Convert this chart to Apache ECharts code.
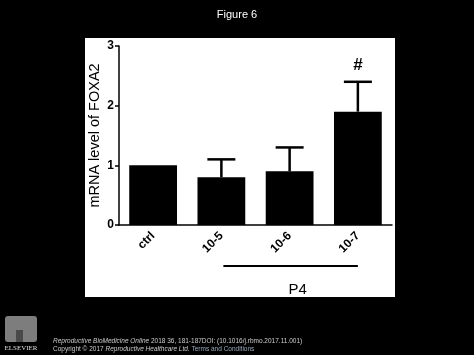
<!DOCTYPE html>
<html>
<head>
<meta charset="utf-8">
<style>
  html, body { margin: 0; padding: 0; background: #000; }
  #main { width: 474px; height: 355px; }
</style>
<script src="https://cdn.jsdelivr.net/npm/echarts@6/dist/echarts.min.js"></script>
</head>
<body>
<div id="main"></div>
<script>
// data
var categories = ['ctrl', '10-5', '10-6', '10-7'];
var means = [1.0, 0.8, 0.9, 1.9];
var errTop = [null, 1.1, 1.3, 2.4];
var marks = ['', '', '', '#'];
var yTicks = [0, 1, 2, 3];
var p4Groups = [1, 3]; // first and last category under the P4 bar

var chart = echarts.init(document.getElementById('main'));

var option = {
  backgroundColor: '#000',
  animation: false,
  title: {
    text: 'Figure 6',
    left: 'center',
    top: 4,
    textStyle: { color: '#fff', fontSize: 11, fontWeight: 'normal', fontFamily: 'Liberation Sans' }
  },
  grid: { left: 119, top: 46, right: 82, bottom: 130 },
  xAxis: {
    type: 'category',
    data: categories,
    axisLine: { lineStyle: { color: '#000', width: 1.5 } },
    axisTick: { alignWithLabel: true, length: 4, lineStyle: { color: '#000', width: 1.5 } },
    axisLabel: {
      rotate: 45, color: '#000', fontSize: 12, fontWeight: 'bold',
      fontFamily: 'Liberation Sans', margin: 9
    }
  },
  yAxis: {
    type: 'value',
    min: 0, max: 3, interval: 1,
    name: 'mRNA level of FOXA2',
    nameLocation: 'middle',
    nameGap: 17,
    nameMoveOverlap: false,
    nameTextStyle: { color: '#000', fontSize: 14.5, fontFamily: 'Liberation Sans' },
    splitLine: { show: false },
    axisLine: { show: true, lineStyle: { color: '#000', width: 1.5 } },
    axisTick: { show: true, length: 4, lineStyle: { color: '#000', width: 1.5 } },
    axisLabel: {
      color: '#000', fontSize: 12, fontWeight: 'bold', fontFamily: 'Liberation Sans', margin: 5,
      formatter: function (v) { return yTicks.indexOf(v) >= 0 ? String(v) : ''; }
    }
  },
  series: [
    {
      type: 'bar',
      data: means,
      barWidth: '70%',
      itemStyle: { color: '#000' }
    },
    {
      type: 'custom',
      data: categories.map(function (c, i) { return [i, means[i], errTop[i]]; }),
      renderItem: function (params, api) {
        var i = api.value(0);
        var base = api.coord([i, api.value(1)]);
        var children = [];
        var hi = api.value(2);
        var topY = base[1];
        if (hi != null && !isNaN(hi)) {
          var top = api.coord([i, hi]);
          topY = top[1];
          children.push({ type: 'line', shape: { x1: base[0], y1: base[1], x2: top[0], y2: top[1] }, style: { stroke: '#000', lineWidth: 2.5 } });
          children.push({ type: 'line', shape: { x1: top[0] - 14, y1: top[1], x2: top[0] + 14, y2: top[1] }, style: { stroke: '#000', lineWidth: 2.5 } });
        }
        var m = marks[params.dataIndex];
        if (m) {
          children.push({ type: 'text', style: { x: base[0], y: topY - 8, text: m, fill: '#000', fontSize: 17, fontWeight: 'bold', fontFamily: 'Liberation Sans', align: 'center', verticalAlign: 'bottom' } });
        }
        return { type: 'group', children: children };
      },
      z: 5
    }
  ]
};
chart.setOption(option);

// P4 bracket position from the category axis
var p1 = chart.convertToPixel({ seriesIndex: 0 }, [p4Groups[0], 0]);
var p2 = chart.convertToPixel({ seriesIndex: 0 }, [p4Groups[1], 0]);

chart.setOption({
  graphic: [
    { type: 'rect', z: -10, shape: { x: 85, y: 38, width: 310, height: 259 }, style: { fill: '#fff' } },
    { type: 'line', shape: { x1: p1[0] + 2, y1: 266, x2: p2[0], y2: 266 }, style: { stroke: '#000', lineWidth: 2 } },
    { type: 'text', style: { x: (p1[0] + p2[0]) / 2 + 8, y: 290, text: 'P4', fill: '#000', fontSize: 15, fontFamily: 'Liberation Sans', align: 'center', verticalAlign: 'middle' } },
    // elsevier logo, rough
    { type: 'rect', shape: { x: 5, y: 316, width: 32, height: 26, r: 3 }, style: { fill: '#7d7d7d' } },
    { type: 'rect', shape: { x: 16, y: 330, width: 7, height: 12 }, style: { fill: '#4a4a4a' } },
    { type: 'text', style: { x: 21, y: 345, text: 'ELSEVIER', fill: '#ddd', fontSize: 7, fontFamily: 'Liberation Serif', align: 'center' } },
    { type: 'text', style: { x: 53, y: 338, text: '{i|Reproductive BioMedicine Online} 2018 36, 181-187DOI: (10.1016/j.rbmo.2017.11.001)',
      fill: '#ccc', fontSize: 6.5, fontFamily: 'Liberation Sans',
      rich: { i: { fontStyle: 'italic', fontSize: 6.5, fill: '#ccc' } } } },
    { type: 'text', style: { x: 53, y: 346, text: 'Copyright © 2017 {i|Reproductive Healthcare Ltd.} {u|Terms and Conditions}',
      fill: '#ccc', fontSize: 6.5, fontFamily: 'Liberation Sans',
      rich: { i: { fontStyle: 'italic', fontSize: 6.5, fill: '#ccc' }, u: { fontSize: 6.5, fill: '#9ab' } } } }
  ]
});
</script>
</body>
</html>
